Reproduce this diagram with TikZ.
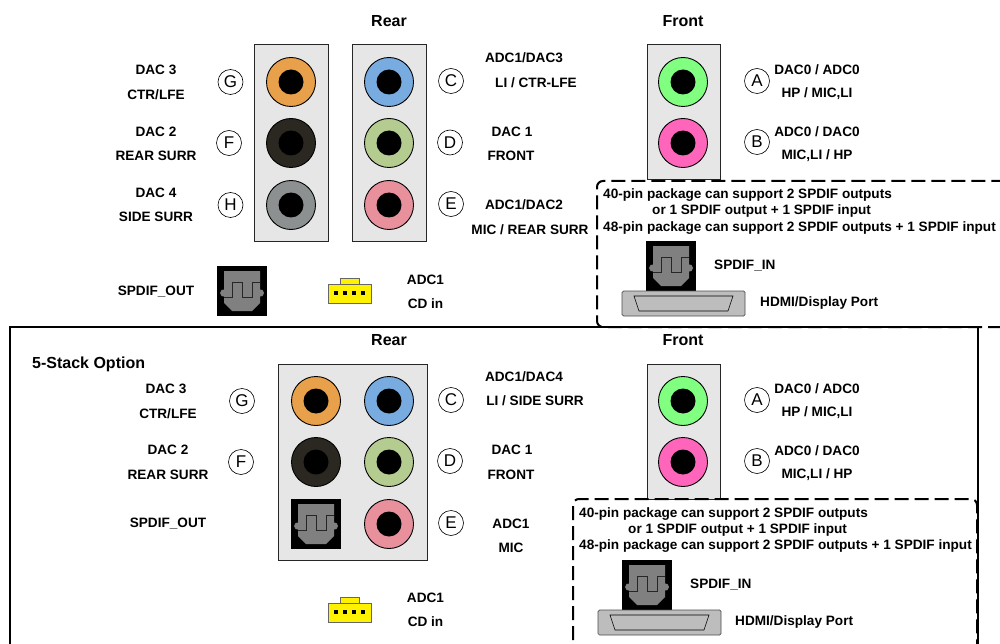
\documentclass[tikz,border=0pt]{standalone}
\usepackage{fontspec}
\setmainfont{Liberation Sans}
\definecolor{jorange}{HTML}{E8A04A}
\definecolor{jblue}{HTML}{78ACE0}
\definecolor{jolive}{HTML}{B4CC90}
\definecolor{jrose}{HTML}{E8909C}
\definecolor{jblack}{HTML}{2A2820}
\definecolor{jgray}{HTML}{8C9090}
\definecolor{jlime}{HTML}{80FF80}
\definecolor{jpink}{HTML}{FF66BB}
\definecolor{pgray}{HTML}{E6E6E6}
\definecolor{sgray}{HTML}{808080}
\definecolor{hgray}{HTML}{BDBDBD}
\tikzset{
 x=1pt,y=-1pt,
 lbl/.style={font=\fontsize{13.6}{15}\selectfont\bfseries,inner sep=0pt,text=black,yshift=-0.8pt},
 lleft/.style={lbl,anchor=west},
 head/.style={lbl,font=\fontsize{16}{18}\selectfont\bfseries},
 letter/.style={draw=black,circle,line width=0.6pt,minimum size=25pt,inner sep=0pt,font=\fontsize{17}{17}\selectfont,fill=white},
 panel/.style={draw=black!85,line width=1pt,fill=pgray},
 dashbox/.style={draw=black,line width=2pt,rounded corners=6pt,dash pattern=on 14pt off 6pt},
 pics/jackp/.style={code={
   \path[draw=black,line width=0.9pt,fill=#1] (0,0) circle[radius=24.5];
   \path[fill=black] (0,0) circle[radius=12.5];
 }},
 pics/spdif/.style={code={
   \fill[black] (0,0) rectangle (50,50);
   \fill[sgray] (7,5) -- (43,5) -- (43,23.5) -- (45.5,24) -- (47,27) -- (45.5,30) -- (43,30.5) -- (43,37) -- (35,45) -- (15,45) -- (7,37) -- (7,30.5) -- (4.5,30) -- (3,27) -- (4.5,24) -- (7,23.5) -- cycle;
   \draw[black!85,line width=0.9pt] (7,31) -- (15,31) -- (15,16) -- (25,16) -- (25,31) -- (35,31) -- (35,16) -- (43,16);
 }},
 pics/cdconn/.style={code={
   \draw[black!60,line width=0.7pt,fill=yellow] (12,0) rectangle (31,6);
   \draw[black!60,line width=0.7pt,fill=yellow] (0,6) rectangle (43,25);
   \foreach \px in {6,15,24,33} \fill[black] (\px,13) rectangle +(4,4);
 }},
 pics/hdmi/.style={code={
   \draw[black!70,line width=0.7pt,fill=hgray,rounded corners=1.5pt] (0,0) rectangle (123,25);
   \draw[black,line width=0.6pt,fill=hgray] (12,5) -- (111,5) -- (106,20) -- (17,20) -- cycle;
 }},
}
\begin{document}
\begin{tikzpicture}
\useasboundingbox (0,0) rectangle (1000,644);
\clip (0,0) rectangle (1000,644);
% lower frame
\draw[black,line width=1.2pt] (10,650) -- (10,327) -- (978,327) -- (978,650);
% top panels
\draw[panel] (254,45) rectangle (328,241);
\draw[panel] (352,45) rectangle (426,241);
\draw[panel] (647,45) rectangle (720,180);
\pic at (291,82) {jackp=jorange};
\pic at (291,143) {jackp=jblack};
\pic at (291,205) {jackp=jgray};
\pic at (389,82) {jackp=jblue};
\pic at (389,143) {jackp=jolive};
\pic at (389,205) {jackp=jrose};
\pic at (683,82) {jackp=jlime};
\pic at (683,143) {jackp=jpink};
\node[letter] (tG) at (230.5,82) {G};
\node[letter] (tF) at (229,143) {F};
\node[letter] (tH) at (230.5,205) {H};
\node[letter] (tC) at (451,81) {C};
\node[letter] (tD) at (450,142.5) {D};
\node[letter] (tE) at (451,204) {E};
\node[letter] (tA) at (757,81) {A};
\node[letter] (tB) at (757,142) {B};
\pic at (217,266) {spdif};
\pic at (328,278) {cdconn};
\node[head] (r1) at (389,20) {Rear};
\node[head] (f1) at (683,20) {Front};
\node[lbl] (a1) at (156,69) {DAC 3};
\node[lbl] (a2) at (156,94) {CTR/LFE};
\node[lbl] (a3) at (156,131) {DAC 2};
\node[lbl] (a4) at (156,155) {REAR SURR};
\node[lbl] (a5) at (156,192) {DAC 4};
\node[lbl] (a6) at (156,216) {SIDE SURR};
\node[lbl] (a7) at (156,291) {SPDIF\_OUT};
\node[lbl] (b1) at (524,57) {ADC1/DAC3};
\node[lbl] (b2) at (536,82) {LI / CTR-LFE};
\node[lbl] (b3) at (512,131) {DAC 1};
\node[lbl] (b4) at (511,155) {FRONT};
\node[lbl] (b5) at (524,204) {ADC1/DAC2};
\node[lbl] (b6) at (530,229) {MIC / REAR SURR};
\node[lbl] (b7) at (425.5,279) {ADC1};
\node[lbl] (b8) at (425.5,303) {CD in};
\node[lbl] (c1) at (817,69) {DAC0 / ADC0};
\node[lbl] (c2) at (817,93) {HP / MIC,LI};
\node[lbl] (c3) at (817,131) {ADC0 / DAC0};
\node[lbl] (c4) at (817,155) {MIC,LI / HP};
% top dashed
\draw[dashbox] (1002,327) -- (597,327) -- (597,181) -- (1002,181);
\node[lleft] (d1) at (603,194) {40-pin package can support 2 SPDIF outputs};
\node[lleft] (d2) at (652,210) {or 1 SPDIF output + 1 SPDIF input};
\node[lleft] (d3) at (603,227) {48-pin package can support 2 SPDIF outputs + 1 SPDIF input};
\pic at (646,241) {spdif};
\pic at (622,291) {hdmi};
\node[lleft] (d4) at (714,265) {SPDIF\_IN};
\node[lleft] (d5) at (760,302) {HDMI/Display Port};
% lower
\draw[panel] (278,364) rectangle (427,560);
\draw[panel] (647,364) rectangle (720,499);
\pic at (316,401) {jackp=jorange};
\pic at (316,462) {jackp=jblack};
\pic at (389,401) {jackp=jblue};
\pic at (389,462) {jackp=jolive};
\pic at (389,524) {jackp=jrose};
\pic at (683,401) {jackp=jlime};
\pic at (683,462) {jackp=jpink};
\pic at (291,499) {spdif};
\pic at (328,597) {cdconn};
\node[letter] (uG) at (242,401) {G};
\node[letter] (uF) at (241,462) {F};
\node[letter] (uC) at (451,400) {C};
\node[letter] (uD) at (450,461) {D};
\node[letter] (uE) at (451,523) {E};
\node[letter] (uA) at (757,400) {A};
\node[letter] (uB) at (757,461) {B};
\node[head] (r2) at (389,339) {Rear};
\node[head] (f2) at (683,339) {Front};
\node[head,anchor=west] (opt) at (32,364) {5-Stack Option};
\node[lbl] (e1) at (166,388) {DAC 3};
\node[lbl] (e2) at (168,413) {CTR/LFE};
\node[lbl] (e3) at (168,449) {DAC 2};
\node[lbl] (e4) at (168,474) {REAR SURR};
\node[lbl] (e5) at (168,523) {SPDIF\_OUT};
\node[lbl] (g1) at (524,376) {ADC1/DAC4};
\node[lbl] (g2) at (535,400) {LI / SIDE SURR};
\node[lbl] (g3) at (512,449) {DAC 1};
\node[lbl] (g4) at (511,474) {FRONT};
\node[lbl] (g5) at (511,523) {ADC1};
\node[lbl] (g6) at (511,547) {MIC};
\node[lbl] (g7) at (425.5,597) {ADC1};
\node[lbl] (g8) at (425.5,621) {CD in};
\node[lbl] (h1) at (817,388) {DAC0 / ADC0};
\node[lbl] (h2) at (817,412) {HP / MIC,LI};
\node[lbl] (h3) at (817,450) {ADC0 / DAC0};
\node[lbl] (h4) at (817,474) {MIC,LI / HP};
\draw[dashbox] (573,660) -- (573,499) -- (977,499) -- (977,660);
\node[lleft] (i1) at (579,513) {40-pin package can support 2 SPDIF outputs};
\node[lleft] (i2) at (628,529) {or 1 SPDIF output + 1 SPDIF input};
\node[lleft] (i3) at (579,545) {48-pin package can support 2 SPDIF outputs + 1 SPDIF input};
\pic at (622,560) {spdif};
\pic at (598,610) {hdmi};
\node[lleft] (i4) at (690,584) {SPDIF\_IN};
\node[lleft] (i5) at (735,621) {HDMI/Display Port};
\end{tikzpicture}
\end{document}
